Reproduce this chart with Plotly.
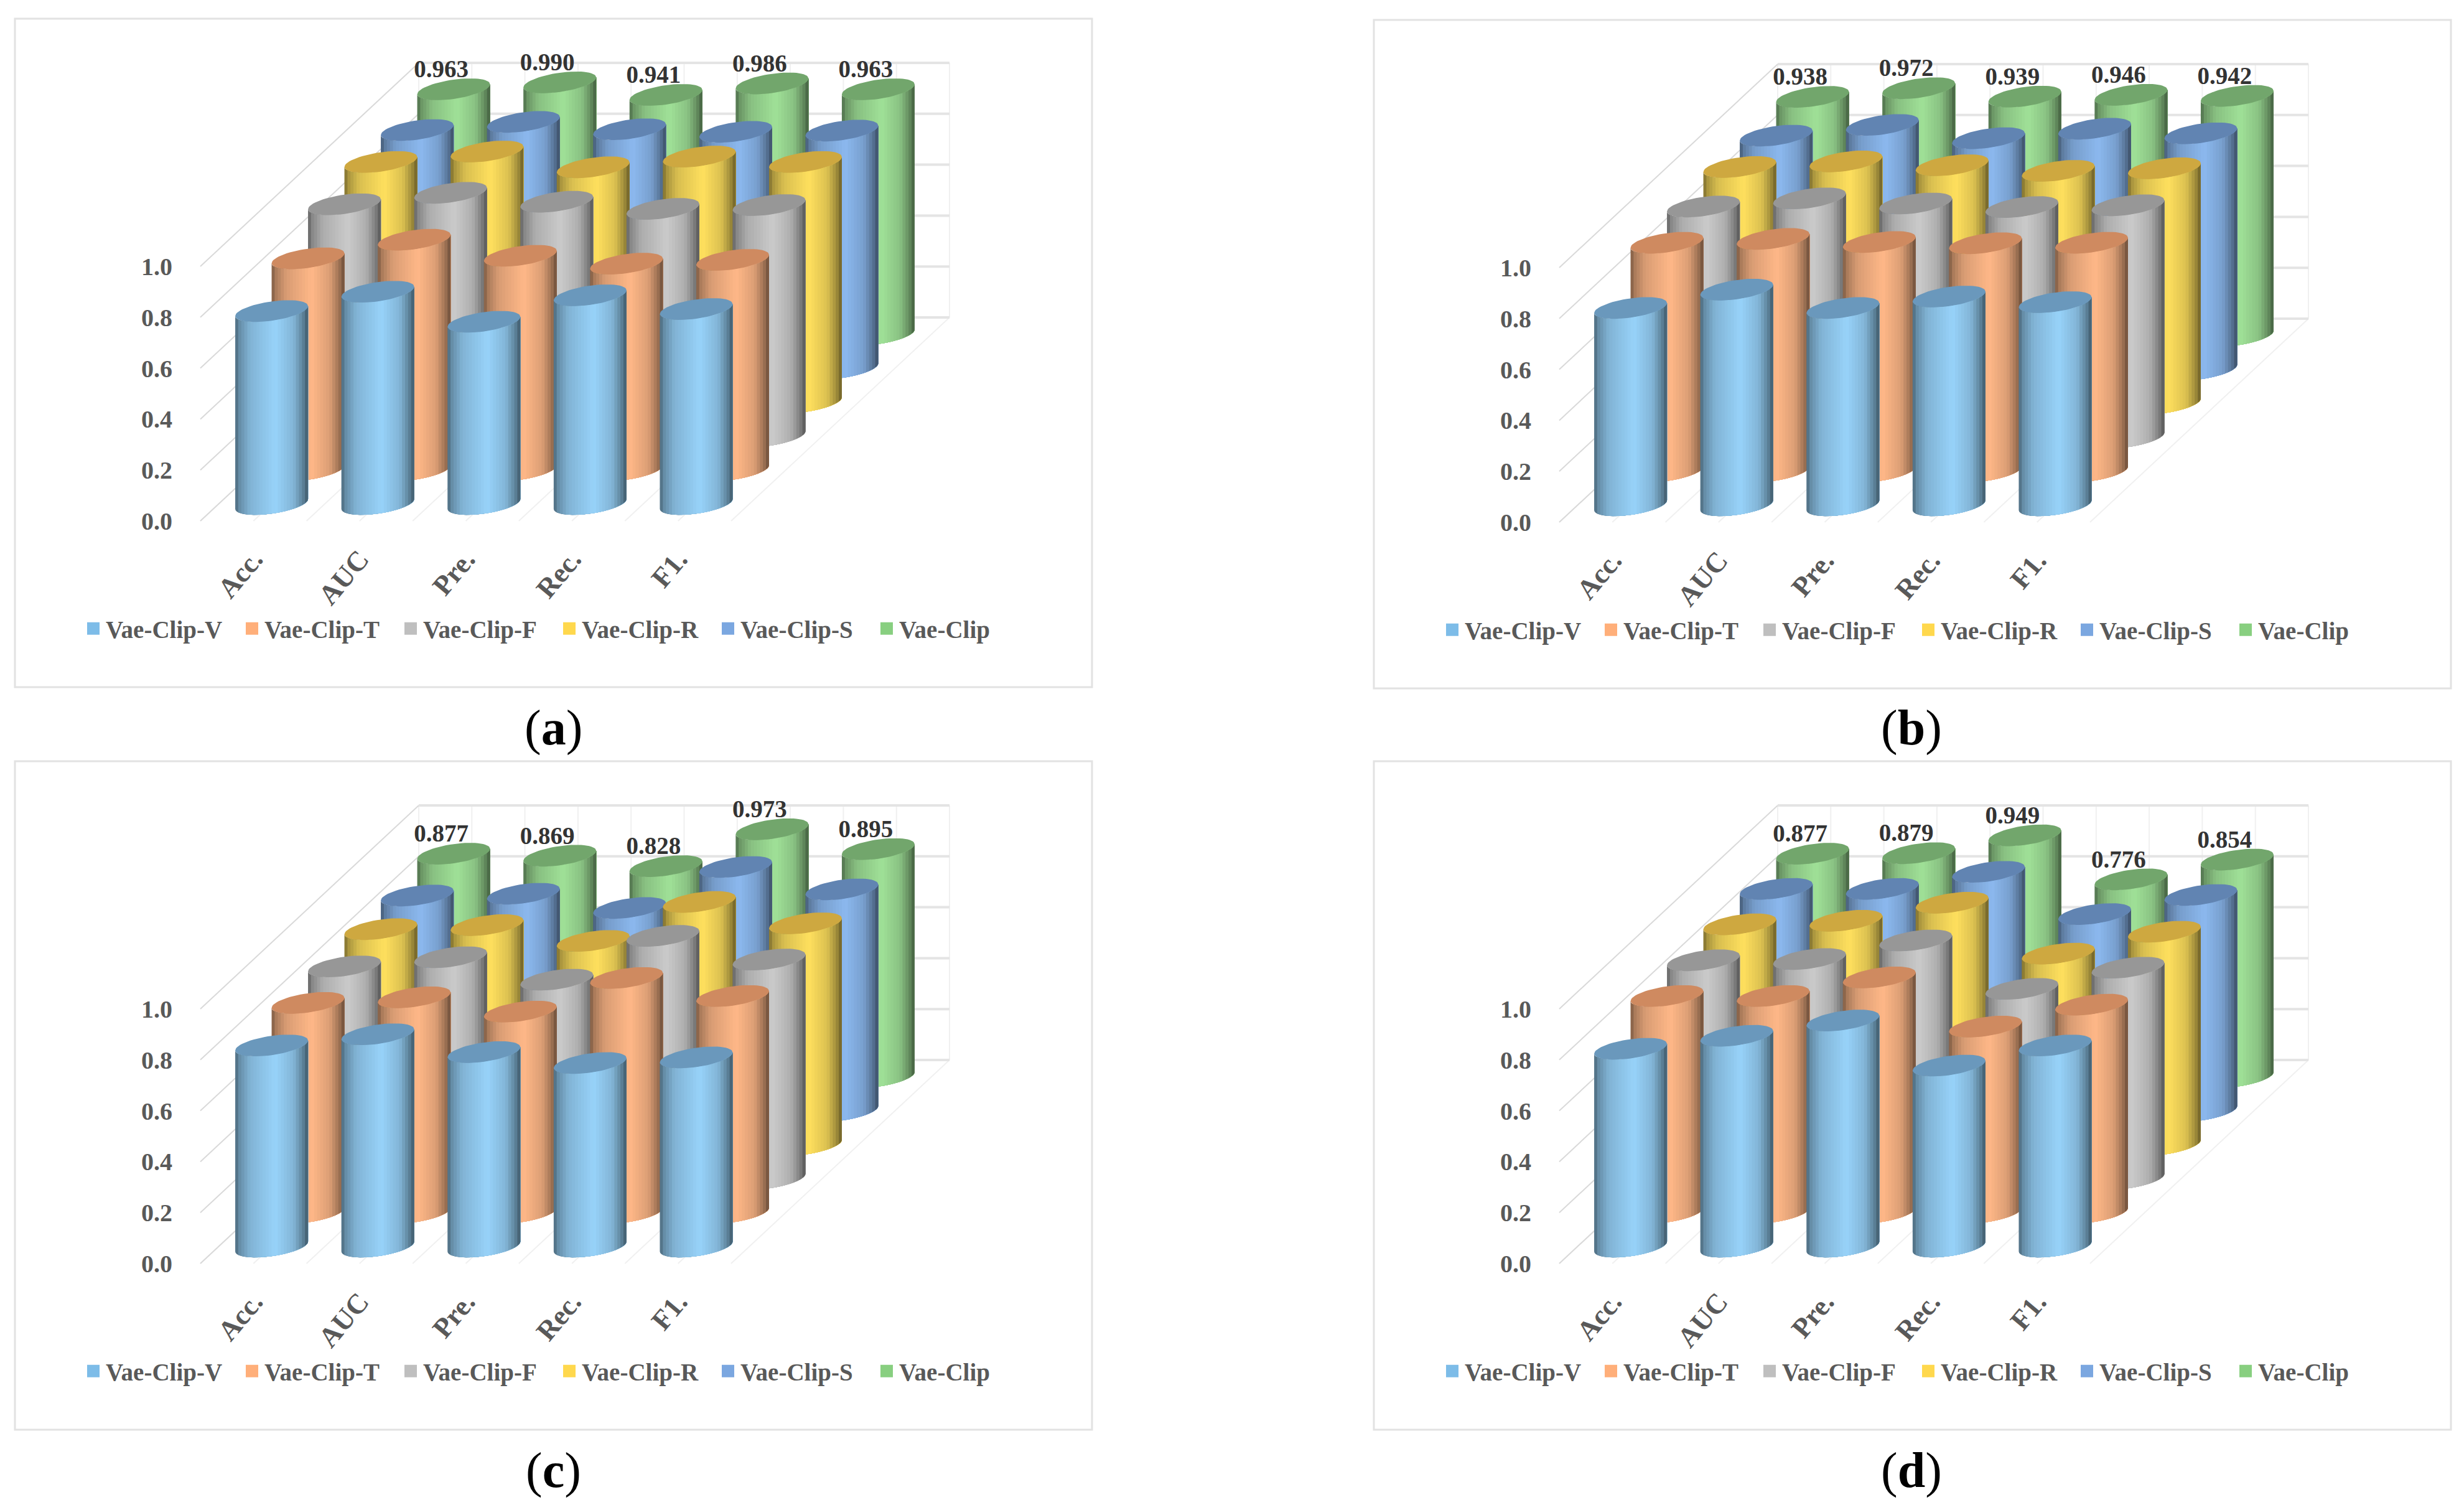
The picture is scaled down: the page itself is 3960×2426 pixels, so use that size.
import numpy as np
import plotly.graph_objects as go

# ---------- data ----------
metrics = ["Acc.", "AUC", "Pre.", "Rec.", "F1."]
series_names = ["Vae-Clip-V", "Vae-Clip-T", "Vae-Clip-F", "Vae-Clip-R", "Vae-Clip-S", "Vae-Clip"]
y_ticks = [0.0, 0.2, 0.4, 0.6, 0.8, 1.0]
y_tick_labels = ["0.0", "0.2", "0.4", "0.6", "0.8", "1.0"]
captions = ["a", "b", "c", "d"]

a_v = [0.758, 0.834, 0.716, 0.820, 0.766]
a_t = [0.832, 0.905, 0.842, 0.811, 0.826]
a_f = [0.911, 0.956, 0.921, 0.893, 0.908]
a_r = [0.944, 0.985, 0.923, 0.965, 0.944]
a_s = [0.936, 0.968, 0.939, 0.929, 0.934]
a_clip = [0.963, 0.990, 0.941, 0.986, 0.963]

b_v = [0.775, 0.847, 0.775, 0.820, 0.798]
b_t = [0.898, 0.913, 0.901, 0.896, 0.898]
b_f = [0.907, 0.939, 0.919, 0.905, 0.912]
b_r = [0.929, 0.951, 0.936, 0.914, 0.924]
b_s = [0.919, 0.961, 0.909, 0.946, 0.928]
b_clip = [0.938, 0.972, 0.939, 0.946, 0.942]

c_v = [0.790, 0.834, 0.764, 0.721, 0.743]
c_t = [0.824, 0.846, 0.790, 0.922, 0.851]
c_f = [0.834, 0.870, 0.782, 0.954, 0.861]
c_r = [0.847, 0.863, 0.801, 0.954, 0.870]
c_s = [0.846, 0.853, 0.797, 0.958, 0.870]
c_clip = [0.877, 0.869, 0.828, 0.973, 0.895]

d_v = [0.777, 0.828, 0.888, 0.711, 0.790]
d_t = [0.851, 0.851, 0.924, 0.731, 0.817]
d_f = [0.858, 0.863, 0.936, 0.746, 0.829]
d_r = [0.866, 0.880, 0.951, 0.751, 0.837]
d_s = [0.872, 0.872, 0.939, 0.773, 0.848]
d_clip = [0.877, 0.879, 0.949, 0.776, 0.854]

panels = [
    [a_v, a_t, a_f, a_r, a_s, a_clip],
    [b_v, b_t, b_f, b_r, b_s, b_clip],
    [c_v, c_t, c_f, c_r, c_s, c_clip],
    [d_v, d_t, d_f, d_r, d_s, d_clip],
]

# ---------- style ----------
W, H = 3960, 2426
PAGE_MARGIN = 8  # the browser's default body margin shifts the whole figure
PX_PER_CAT = 170.6
PX_PER_VAL = 409.0
FRONT_LEFT_X, FLOOR_Y = 322.0, 837.0
DEPTH_X = 351.0 / PX_PER_CAT
DEPTH_Y = 327.0 / PX_PER_VAL
RADIUS = 58.5 / PX_PER_CAT
TILT = 8.0 / PX_PER_VAL
MINOR = 15.5 / PX_PER_VAL
PANEL_OFFSETS = [(x - PAGE_MARGIN, y - PAGE_MARGIN)
                 for x, y in [(0, 0), (2184, 2), (0, 1193), (2184, 1193)]]
CAPTION_XY = [(889, 1169), (3072, 1169), (889, 2362), (3072, 2362)]
AX_LEFT, AX_RIGHT, AX_TOP, AX_BOTTOM = 278, 1700, 50, 862
FONT = "Liberation Serif"

side_light = ["#98D3FA", "#FFB888", "#CBCBCB", "#FFE05E", "#8CB9EF", "#A0E198"]
top_dark = ["#6A98BC", "#CF8A60", "#979797", "#CEA840", "#6184B2", "#72A66C"]
legend_swatch = ["#7DBCE8", "#FFAF7A", "#BFBFBF", "#FFD84D", "#7BA7E0", "#88CF80"]
shade_u = [0.0, 0.05, 0.2, 0.55, 0.8, 0.93, 1.0]
shade_m = [0.48, 0.66, 0.85, 1.0, 0.86, 0.62, 0.42]
N_STRIPS = 24


def hex_rgb(h):
    return np.array([int(h[i:i + 2], 16) for i in (1, 3, 5)], dtype=float)


def shaded(h, u):
    c = hex_rgb(h) * np.interp(u, shade_u, shade_m)
    return "rgb(%d,%d,%d)" % tuple(np.clip(c, 0, 255))


def position(c, s):
    f = (s + 0.5) / 6
    return c + f * DEPTH_X, f * DEPTH_Y


fig = go.Figure()
shapes, annotations, layout = [], [], {}

for p, values in enumerate(panels):
    ox, oy = PANEL_OFFSETS[p]
    sfx = "" if p == 0 else str(p + 1)
    xa, ya = "x" + sfx, "y" + sfx
    leg = "legend" + sfx

    # axes box in pixels
    left, right, top, bottom = AX_LEFT + ox, AX_RIGHT + ox, AX_TOP + oy, AX_BOTTOM + oy
    x0 = (AX_LEFT - FRONT_LEFT_X) / PX_PER_CAT - 0.5
    x1 = (AX_RIGHT - FRONT_LEFT_X) / PX_PER_CAT - 0.5
    y0 = (FLOOR_Y - AX_BOTTOM) / PX_PER_VAL
    y1 = (FLOOR_Y - AX_TOP) / PX_PER_VAL
    layout["xaxis" + sfx] = dict(
        domain=[left / W, right / W], range=[x0, x1], anchor=ya,
        tickmode="array", tickvals=list(range(5)), ticktext=metrics, tickangle=-50,
        tickfont=dict(family=FONT, size=45, color="#595959", weight=700),
        showgrid=False, zeroline=False, showline=False, ticks="",
    )
    layout["yaxis" + sfx] = dict(
        domain=[1 - bottom / H, 1 - top / H], range=[y0, y1], anchor=xa,
        tickmode="array", tickvals=y_ticks, ticktext=y_tick_labels,
        tickfont=dict(family=FONT, size=40, color="#595959", weight=700),
        showgrid=False, zeroline=False, showline=False, ticks="",
    )

    # panel frame
    shapes.append(dict(type="rect", xref="paper", yref="paper", layer="below",
                       x0=(24 + ox) / W, x1=(1755 + ox) / W,
                       y0=1 - (1104 + oy) / H, y1=1 - (30 + oy) / H,
                       line=dict(color="#E2E2E2", width=3), fillcolor="#FFFFFF"))

    # walls
    xl = -0.5
    xr = 4.5
    base = dict(xaxis=xa, yaxis=ya, mode="lines", hoverinfo="skip", showlegend=False)
    fx, fy = [], []
    for k in range(11):
        e = xl + k / 2
        fx += [e, e + DEPTH_X, None, e + DEPTH_X, e + DEPTH_X, None]
        fy += [0, DEPTH_Y, None, DEPTH_Y, DEPTH_Y + 1.0, None]
    fig.add_trace(go.Scatter(x=fx, y=fy, line=dict(color="#F0F0F0", width=2), **base))
    lx, ly, bx, by = [], [], [], []
    for v in y_ticks:
        lx += [xl, xl + DEPTH_X, None]
        ly += [v, v + DEPTH_Y, None]
        bx += [xl + DEPTH_X, xr + DEPTH_X, None]
        by += [v + DEPTH_Y, v + DEPTH_Y, None]
    fig.add_trace(go.Scatter(x=lx, y=ly, line=dict(color="#D9D9D9", width=2), **base))
    fig.add_trace(go.Scatter(x=bx, y=by, line=dict(color="#E4E4E4", width=4), **base))

    # cylinders, back row first
    for s in range(5, -1, -1):
        for i in range(N_STRIPS):
            u = i / N_STRIPS
            t0 = 2 * np.pi - np.arccos(2 * u - 1)
            t = np.linspace(t0, 2 * np.pi, 22)
            px, py = [], []
            for c, v in enumerate(values[s]):
                cx, cy = position(c, s)
                ex = cx + RADIUS * np.cos(t)
                ey = TILT * np.cos(t) + MINOR * np.sin(t) + cy
                px += list(ex) + list(ex[::-1]) + [ex[0], None]
                py += list(ey) + list((ey + v)[::-1]) + [ey[0], None]
            fig.add_trace(go.Scatter(
                x=px, y=py, fill="toself", fillcolor=shaded(side_light[s], u + 0.5 / N_STRIPS),
                line=dict(width=0), **base))
        t = np.linspace(0, 2 * np.pi, 61)
        px, py = [], []
        for c, v in enumerate(values[s]):
            cx, cy = position(c, s)
            px += list(cx + RADIUS * np.cos(t)) + [None]
            py += list(cy + v + TILT * np.cos(t) + MINOR * np.sin(t)) + [None]
        fig.add_trace(go.Scatter(x=px, y=py, fill="toself", fillcolor=top_dark[s],
                                 line=dict(width=0), **base))

    # value labels on the rear row
    lab_x, lab_y = [], []
    for c, v in enumerate(values[5]):
        cx, cy = position(c, 5)
        lab_x.append(cx - 20 / PX_PER_CAT)
        lab_y.append(cy + v + 29 / PX_PER_VAL)
    fig.add_trace(go.Scatter(
        x=lab_x, y=lab_y, mode="text", text=["%.3f" % v for v in values[5]],
        textposition="middle center", cliponaxis=False,
        textfont=dict(family=FONT, size=39, color="#333333", weight=700),
        xaxis=xa, yaxis=ya, hoverinfo="skip", showlegend=False))

    # legend
    for s, name in enumerate(series_names):
        fig.add_trace(go.Scatter(
            x=[None], y=[None], mode="markers", name=name, legend=leg, xaxis=xa, yaxis=ya,
            marker=dict(symbol="square", size=16, color=legend_swatch[s],
                        line=dict(color=legend_swatch[s], width=4))))
    layout[leg] = dict(
        orientation="h", x=(130 + ox) / W, y=1 - (1010 + oy) / H,
        xanchor="left", yanchor="middle", bgcolor="rgba(0,0,0,0)",
        font=dict(family=FONT, size=39, color="#595959", weight=700),
        itemsizing="trace", itemwidth=30, entrywidth=210, entrywidthmode="pixels",
        traceorder="normal", itemclick=False, itemdoubleclick=False,
    )

    cap_x, cap_y = CAPTION_XY[p]
    annotations.append(dict(
        xref="paper", yref="paper", x=(cap_x - PAGE_MARGIN) / W, y=1 - (cap_y - PAGE_MARGIN) / H,
        text="(<b>%s</b>)" % captions[p], showarrow=False, xanchor="center", yanchor="middle",
        font=dict(family=FONT, size=80, color="#000000")))

fig.update_layout(
    width=W, height=H, margin=dict(l=0, r=0, t=0, b=0), autosize=False,
    paper_bgcolor="#FFFFFF", plot_bgcolor="rgba(0,0,0,0)",
    shapes=shapes, annotations=annotations, showlegend=True, **layout)
fig.write_html("out.html")
